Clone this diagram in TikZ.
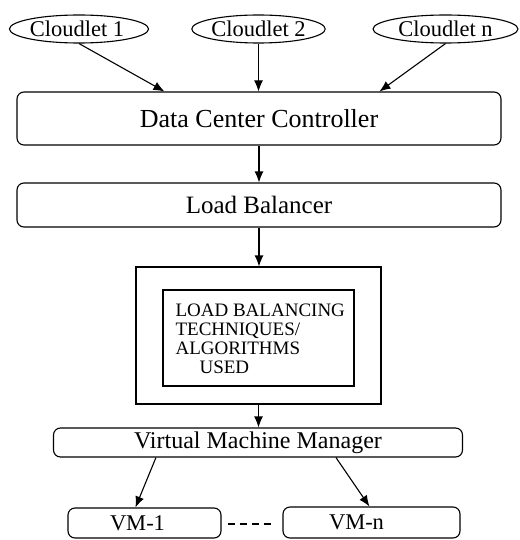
\documentclass[tikz,border=0pt]{standalone}
\usepackage{fontspec}
\setmainfont{Liberation Serif}
\usetikzlibrary{shapes.geometric,arrows.meta,calc}
\begin{document}
\begin{tikzpicture}[x=1pt,y=-1pt,
  line width=1.1pt,
  arr/.style={-{Latex[length=11pt,width=9pt]}},
  cloud/.style={draw,ellipse,minimum height=28pt,inner sep=0pt,font=\fontsize{22.5}{24}\selectfont},
  rbox/.style={draw,rounded corners=7pt,inner sep=0pt},
  sbox/.style={draw,inner sep=0pt},
]
\useasboundingbox (0,0) rectangle (519,540);
% cloudlets
\node[cloud,minimum width=138pt] (c1) at (79,29) {Cloudlet 1\hspace*{4pt}};
\node[cloud,minimum width=129pt] (c2) at (258.5,29) {Cloudlet 2};
\node[cloud,minimum width=145pt] (cn) at (445.5,29) {Cloudlet n};
% main boxes
\node[rbox,minimum width=484pt,minimum height=53pt,font=\fontsize{26}{28}\selectfont] (dcc) at (259,118.5) {Data Center Controller};
\node[rbox,minimum width=484pt,minimum height=44pt,font=\fontsize{25}{27}\selectfont] (lb) at (259,205) {Load Balancer};
\node[sbox,minimum width=245pt,minimum height=137pt] (outer) at (258.5,335.5) {};
\node[sbox,minimum width=191pt,minimum height=96pt] (inner) at (258.5,338) {};
\node[anchor=north west,align=left,inner sep=0pt,font=\fontsize{19}{19}\selectfont] (txt) at (175,303) {LOAD BALANCING\\TECHNIQUES/\\ALGORITHMS\\\hspace*{24pt}USED};
\node[rbox,minimum width=409pt,minimum height=29pt,font=\fontsize{24}{26}\selectfont] (vmm) at (258,442.5) {Virtual Machine Manager};
\node[rbox,minimum width=153pt,minimum height=30pt,font=\fontsize{22.5}{24}\selectfont] (vm1) at (144.5,523) {VM-1\hspace*{14pt}};
\node[rbox,minimum width=177pt,minimum height=31pt,font=\fontsize{22.5}{24}\selectfont] (vmn) at (371.5,522.5) {VM-n\hspace*{30pt}};
% connectors
\draw[arr] (c1.south) -- ($(dcc.north west)+(148,0)$);
\draw[arr] (c2.south) -- (c2.south |- dcc.north);
\draw[arr] (cn.south) -- ($(dcc.north west)+(363,0)$);
\draw[arr] (dcc.south) -- (lb.north);
\draw[arr] (lb.south) -- (lb.south |- outer.north);
\draw[arr] (outer.south) -- (outer.south |- vmm.north);
\draw[arr] ($(vmm.south west)+(103,0)$) -- ($(vm1.north west)+(68,0)$);
\draw[arr] ($(vmm.south west)+(283,0)$) -- ($(vmn.north west)+(87,0)$);
\draw[dash pattern=on 7pt off 5pt] ($(vm1.east)+(6,1)$) -- ($(vmn.west)+(-11,1.5)$);
\end{tikzpicture}
\end{document}
